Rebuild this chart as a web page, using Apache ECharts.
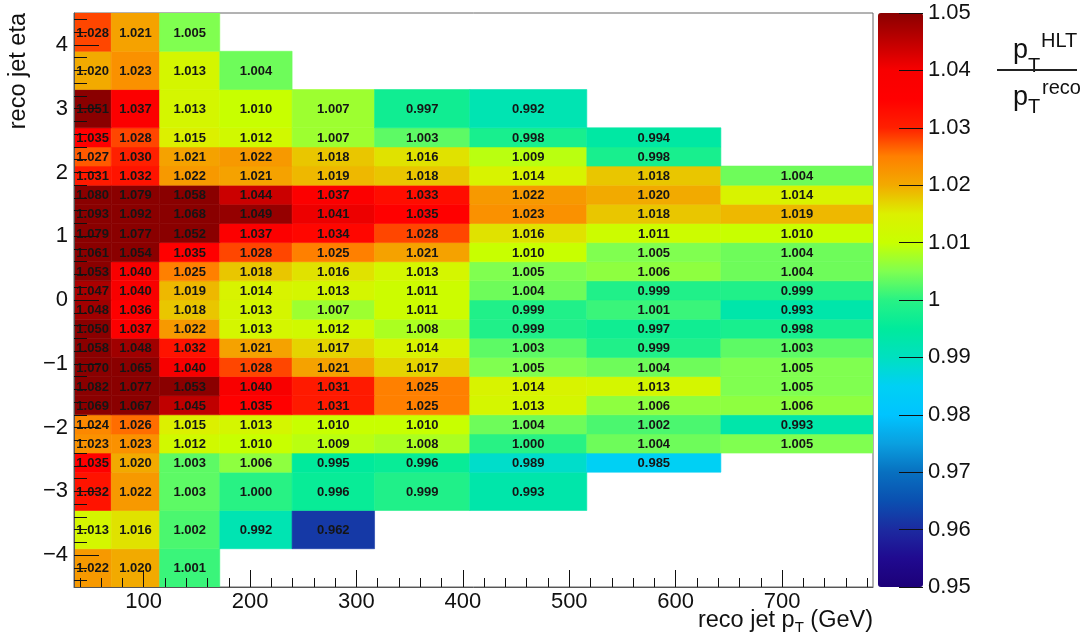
<!DOCTYPE html>
<html>
<head>
<meta charset="utf-8">
<script src="https://cdn.jsdelivr.net/npm/echarts@6/dist/echarts.min.js"></script>
<style>
html,body{margin:0;padding:0;background:#fff;}
#chart{width:1089px;height:641px;}
</style>
</head>
<body>
<div id="chart"></div>
<script>
// ---- data ----
const ptEdges = [34.5, 69.5, 115, 171.5, 239.5, 317, 406.5, 516.5, 642.5, 785.5];
const etaEdges = [-4.5, -3.9, -3.3, -2.7, -2.4, -2.1, -1.8, -1.5, -1.2, -0.9, -0.6, -0.3, 0,
                  0.3, 0.6, 0.9, 1.2, 1.5, 1.8, 2.1, 2.4, 2.7, 3.3, 3.9, 4.5];
// rows from lowest eta bin to highest, values per pT bin
const row00 = [1.022, 1.020, 1.001];
const row01 = [1.013, 1.016, 1.002, 0.992, 0.962];
const row02 = [1.032, 1.022, 1.003, 1.000, 0.996, 0.999, 0.993];
const row03 = [1.035, 1.020, 1.003, 1.006, 0.995, 0.996, 0.989, 0.985];
const row04 = [1.023, 1.023, 1.012, 1.010, 1.009, 1.008, 1.000, 1.004, 1.005];
const row05 = [1.024, 1.026, 1.015, 1.013, 1.010, 1.010, 1.004, 1.002, 0.993];
const row06 = [1.069, 1.067, 1.045, 1.035, 1.031, 1.025, 1.013, 1.006, 1.006];
const row07 = [1.082, 1.077, 1.053, 1.040, 1.031, 1.025, 1.014, 1.013, 1.005];
const row08 = [1.070, 1.065, 1.040, 1.028, 1.021, 1.017, 1.005, 1.004, 1.005];
const row09 = [1.058, 1.048, 1.032, 1.021, 1.017, 1.014, 1.003, 0.999, 1.003];
const row10 = [1.050, 1.037, 1.022, 1.013, 1.012, 1.008, 0.999, 0.997, 0.998];
const row11 = [1.048, 1.036, 1.018, 1.013, 1.007, 1.011, 0.999, 1.001, 0.993];
const row12 = [1.047, 1.040, 1.019, 1.014, 1.013, 1.011, 1.004, 0.999, 0.999];
const row13 = [1.053, 1.040, 1.025, 1.018, 1.016, 1.013, 1.005, 1.006, 1.004];
const row14 = [1.061, 1.054, 1.035, 1.028, 1.025, 1.021, 1.010, 1.005, 1.004];
const row15 = [1.079, 1.077, 1.052, 1.037, 1.034, 1.028, 1.016, 1.011, 1.010];
const row16 = [1.093, 1.092, 1.068, 1.049, 1.041, 1.035, 1.023, 1.018, 1.019];
const row17 = [1.080, 1.079, 1.058, 1.044, 1.037, 1.033, 1.022, 1.020, 1.014];
const row18 = [1.031, 1.032, 1.022, 1.021, 1.019, 1.018, 1.014, 1.018, 1.004];
const row19 = [1.027, 1.030, 1.021, 1.022, 1.018, 1.016, 1.009, 0.998];
const row20 = [1.035, 1.028, 1.015, 1.012, 1.007, 1.003, 0.998, 0.994];
const row21 = [1.051, 1.037, 1.013, 1.010, 1.007, 0.997, 0.992];
const row22 = [1.020, 1.023, 1.013, 1.004];
const row23 = [1.028, 1.021, 1.005];
const valueRows = [row00,row01,row02,row03,row04,row05,row06,row07,row08,row09,row10,row11,
                   row12,row13,row14,row15,row16,row17,row18,row19,row20,row21,row22,row23];

const xTicks = [100, 200, 300, 400, 500, 600, 700];
const yTicks = [-4, -3, -2, -1, 0, 1, 2, 3, 4];
const zTicks = [0.95, 0.96, 0.97, 0.98, 0.99, 1.00, 1.01, 1.02, 1.03, 1.04, 1.05];
const zMin = 0.95, zMax = 1.05;

// colour palette (evenly spaced from zMin to zMax)
const palette = ['#1c0078','#200a90','#1c2aa0','#0a50b0','#0870c0','#0aa0e0','#00c4ff','#00d0f4',
                 '#00e0c0','#00ea9c','#28f284','#80ff50','#c8ff00','#dcf000','#f2aa00','#ff8000',
                 '#ff2000','#ff0000','#f80000','#c00000','#8a0000'];

const FONT = '"Liberation Sans", Arial, Helvetica, sans-serif';

// build cells
const cells = [];
valueRows.forEach((row, j) => {
  row.forEach((v, i) => {
    cells.push([ptEdges[i], ptEdges[i + 1], etaEdges[j], etaEdges[j + 1], v,
                Math.min(Math.max(v, zMin), zMax)]);
  });
});

const xMinorTicks = [];
for (let t = 40; t < ptEdges[ptEdges.length - 1]; t += 20) if (t % 100 !== 0) xMinorTicks.push(t);
const yMinorTicks = [];
for (let k = -22; k <= 22; k++) if (k % 5 !== 0) yMinorTicks.push(+(k * 0.2).toFixed(1));

const minus = v => (v < 0 ? '\u2212' + Math.abs(v) : String(v));

const chart = echarts.init(document.getElementById('chart'), null, {renderer: 'canvas'});

const option = {
  animation: false,
  backgroundColor: '#fff',
  textStyle: {fontFamily: FONT},
  grid: [
    {left: 74, top: 13, width: 799, height: 574, show: true, borderColor: '#666', borderWidth: 1,
     backgroundColor: 'transparent', containLabel: false},
    {left: 878, top: 13, width: 45, height: 574, show: false, containLabel: false}
  ],
  xAxis: [
    {type: 'value', gridIndex: 0, min: ptEdges[0], max: ptEdges[ptEdges.length - 1],
     minInterval: 100, maxInterval: 100, z: 10, position: 'bottom',
     axisLine: {show: true, onZero: false, lineStyle: {color: '#555', width: 1}},
     axisTick: {show: true, inside: true, length: 17, customValues: xTicks, lineStyle: {color: '#111', width: 1}},
     axisLabel: {show: true, customValues: xTicks, fontSize: 22, color: '#111', margin: 4, fontFamily: FONT},
     splitLine: {show: false}},
    {type: 'value', gridIndex: 0, min: ptEdges[0], max: ptEdges[ptEdges.length - 1],
     z: 10, position: 'bottom', offset: 0,
     axisLine: {show: false, onZero: false},
     axisTick: {show: true, inside: true, length: 9, customValues: xMinorTicks, lineStyle: {color: '#111', width: 1}},
     axisLabel: {show: false},
     splitLine: {show: false}},
    {type: 'value', gridIndex: 1, show: false, min: 0, max: 1, axisLine: {onZero: false}}
  ],
  yAxis: [
    {type: 'value', gridIndex: 0, min: etaEdges[0], max: etaEdges[etaEdges.length - 1],
     minInterval: 1, maxInterval: 1, z: 10, position: 'left',
     axisLine: {show: true, onZero: false, lineStyle: {color: '#555', width: 1}},
     axisTick: {show: true, inside: true, length: 25, customValues: yTicks, lineStyle: {color: '#111', width: 1}},
     axisLabel: {show: true, customValues: yTicks, fontSize: 22, color: '#111', margin: 6,
                 padding: [6, 0, 0, 0], fontFamily: FONT, formatter: minus},
     splitLine: {show: false}},
    {type: 'value', gridIndex: 0, min: etaEdges[0], max: etaEdges[etaEdges.length - 1],
     z: 10, position: 'left', offset: 0,
     axisLine: {show: false, onZero: false},
     axisTick: {show: true, inside: true, length: 13, customValues: yMinorTicks, lineStyle: {color: '#111', width: 1}},
     axisLabel: {show: false},
     splitLine: {show: false}},
    {type: 'value', gridIndex: 1, min: zMin, max: zMax, interval: 0.01, z: 10, position: 'right',
     axisLine: {show: false, onZero: false},
     axisTick: {show: true, inside: true, length: 24, customValues: zTicks, lineStyle: {color: '#111', width: 1}},
     axisLabel: {show: true, customValues: zTicks, fontSize: 22, color: '#111', margin: 5, fontFamily: FONT,
                 formatter: v => String(+(+v).toFixed(2))},
     splitLine: {show: false}}
  ],
  visualMap: {
    type: 'continuous', min: zMin, max: zMax, dimension: 5, seriesIndex: 0,
    calculable: false, hoverLink: false, orient: 'vertical',
    left: 878, top: 13, itemWidth: 45, itemHeight: 574, padding: 0,
    inRange: {color: palette}, z: 4
  },
  series: [{
    type: 'custom', xAxisIndex: 0, yAxisIndex: 0, z: 2, clip: true,
    dimensions: ['x0', 'x1', 'y0', 'y1', 'v', 'vc'],
    encode: {x: [0, 1], y: [2, 3]},
    data: cells,
    renderItem: function (params, api) {
      const p0 = api.coord([api.value(0), api.value(3)]);
      const p1 = api.coord([api.value(1), api.value(2)]);
      const color = api.visual('color');
      const w = p1[0] - p0[0], h = p1[1] - p0[1];
      return {
        type: 'group',
        children: [
          {type: 'rect', shape: {x: p0[0], y: p0[1], width: w, height: h},
           style: {fill: color, stroke: color, lineWidth: 0.6}},
          {type: 'text', z2: 10,
           style: {text: api.value(4).toFixed(3), x: p0[0] + w / 2, y: p0[1] + h / 2 + 1,
                   align: 'center', verticalAlign: 'middle',
                   font: 'bold 13px ' + FONT, fill: '#151515'}}
        ]
      };
    }
  }],
  graphic: [
    {type: 'text', x: 19, y: 13, rotation: Math.PI / 2, z: 20,
     style: {text: 'reco jet eta', align: 'right', verticalAlign: 'middle', font: '23.5px ' + FONT, fill: '#111'}},
    {type: 'text', x: 873, y: 621, z: 20,
     style: {text: '{a|reco jet p}{s|T}{a| (GeV)}', align: 'right', verticalAlign: 'middle', fill: '#111',
             rich: {a: {fontSize: 23.5, fontFamily: FONT, lineHeight: 28, fill: '#111'},
                    s: {fontSize: 15, fontFamily: FONT, lineHeight: 12, verticalAlign: 'bottom', fill: '#111'}}}},
    // fraction pT^HLT / pT^reco
    {type: 'text', x: 1013, y: 51, z: 20, style: {text: 'p', align: 'left', verticalAlign: 'middle', font: '27px ' + FONT, fill: '#111'}},
    {type: 'text', x: 1028, y: 66, z: 20, style: {text: 'T', align: 'left', verticalAlign: 'middle', font: '20px ' + FONT, fill: '#111'}},
    {type: 'text', x: 1041, y: 41, z: 20, style: {text: 'HLT', align: 'left', verticalAlign: 'middle', font: '20px ' + FONT, fill: '#111'}},
    {type: 'line', z: 20, shape: {x1: 997, y1: 70, x2: 1077, y2: 70}, style: {stroke: '#222', lineWidth: 2}},
    {type: 'text', x: 1013, y: 98, z: 20, style: {text: 'p', align: 'left', verticalAlign: 'middle', font: '27px ' + FONT, fill: '#111'}},
    {type: 'text', x: 1028, y: 107, z: 20, style: {text: 'T', align: 'left', verticalAlign: 'middle', font: '20px ' + FONT, fill: '#111'}},
    {type: 'text', x: 1042, y: 88, z: 20, style: {text: 'reco', align: 'left', verticalAlign: 'middle', font: '20px ' + FONT, fill: '#111'}}
  ]
};
chart.setOption(option);
</script>
</body>
</html>
